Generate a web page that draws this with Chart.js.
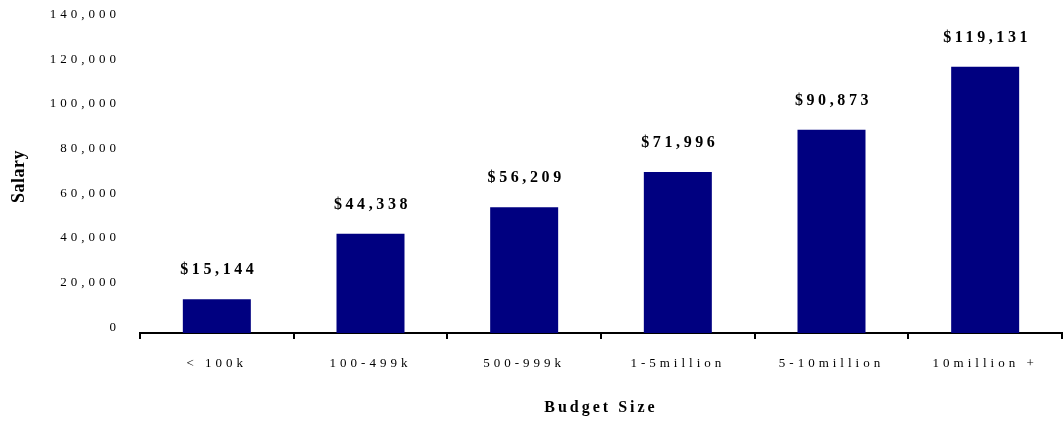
<!DOCTYPE html>
<html>
<head>
<meta charset="utf-8">
<script src="https://cdn.jsdelivr.net/npm/chart.js@4/dist/chart.umd.min.js"></script>
<style>
  html, body { margin: 0; padding: 0; background: #fff; }
  canvas { display: block; }
</style>
</head>
<body>
<canvas id="c" width="1063" height="421"></canvas>
<script>
const categories = ["< 100k", "100-499k", "500-999k", "1-5million", "5-10million", "10million +"];
const salaries = [15144, 44338, 56209, 71996, 90873, 119131];
const yTicks = [0, 20000, 40000, 60000, 80000, 100000, 120000, 140000];
const xTitle = "Budget Size";
const yTitle = "Salary";

const FONT = "'Liberation Serif', 'Times New Roman', serif";
const fmt = v => v.toString().replace(/\B(?=(\d{3})+(?!\d))/g, ",");

const spacingPlugin = {
  id: 'spacing',
  beforeDraw(chart) {
    Object.values(chart.scales).forEach(s => {
      if (s._spPatched) return;
      s._spPatched = true;
      const origLabels = s.drawLabels.bind(s);
      const origTitle = s.drawTitle.bind(s);
      s.drawLabels = function(a) {
        const ctx = this.ctx; const old = ctx.letterSpacing;
        ctx.letterSpacing = '4px'; origLabels(a); ctx.letterSpacing = old;
      };
      s.drawTitle = function(a) {
        const ctx = this.ctx; const old = ctx.letterSpacing;
        ctx.letterSpacing = this.axis === 'x' ? '3px' : '0.5px'; origTitle(a); ctx.letterSpacing = old;
      };
    });
  },
  afterDatasetsDraw(chart) {
    const ctx = chart.ctx;
    const meta = chart.getDatasetMeta(0);
    ctx.save();
    ctx.letterSpacing = '3.6px';
    ctx.font = "bold 16px " + FONT;
    ctx.fillStyle = '#000';
    ctx.textAlign = 'center';
    ctx.textBaseline = 'middle';
    meta.data.forEach((bar, i) => {
      ctx.fillText('$' + fmt(salaries[i]), bar.x + 2, bar.y - 29);
    });
    ctx.restore();
  }
};

new Chart(document.getElementById('c'), {
  type: 'bar',
  data: {
    labels: categories,
    datasets: [{
      data: salaries,
      backgroundColor: '#000080',
      borderWidth: 0,
      categoryPercentage: 1,
      barPercentage: 0.4425
    }]
  },
  options: {
    responsive: false,
    animation: false,
    devicePixelRatio: 1,
    layout: { padding: { top: 20, right: 1, bottom: 0, left: 0 } },
    plugins: { legend: { display: false }, tooltip: { enabled: false } },
    scales: {
      x: {
        grid: { display: true, drawOnChartArea: false, drawTicks: true, tickLength: 6, color: '#000', lineWidth: 2, offset: true },
        border: { display: true, color: '#000', width: 2 },
        ticks: { color: '#000', font: { family: FONT, size: 13 }, padding: 17, autoSkip: false, maxRotation: 0, minRotation: 0 },
        title: { display: true, text: xTitle, color: '#000', font: { family: FONT, size: 16, weight: 'bold' }, padding: { top: 0, bottom: 4 } },
        afterFit(s) { s.height = 88; }
      },
      y: {
        min: 0,
        max: 140000,
        grid: { display: false },
        border: { display: false },
        afterBuildTicks(s) { s.ticks = yTicks.map(v => ({ value: v })); },
        ticks: { color: '#000', font: { family: FONT, size: 13 }, padding: 12, labelOffset: -5.5, callback: v => fmt(v) },
        title: { display: true, text: yTitle, color: '#000', font: { family: FONT, size: 18, weight: 'bold' }, padding: { top: 9, bottom: 0 } },
        afterFit(s) { s.width = 140; }
      }
    }
  },
  plugins: [spacingPlugin]
});
</script>
</body>
</html>
